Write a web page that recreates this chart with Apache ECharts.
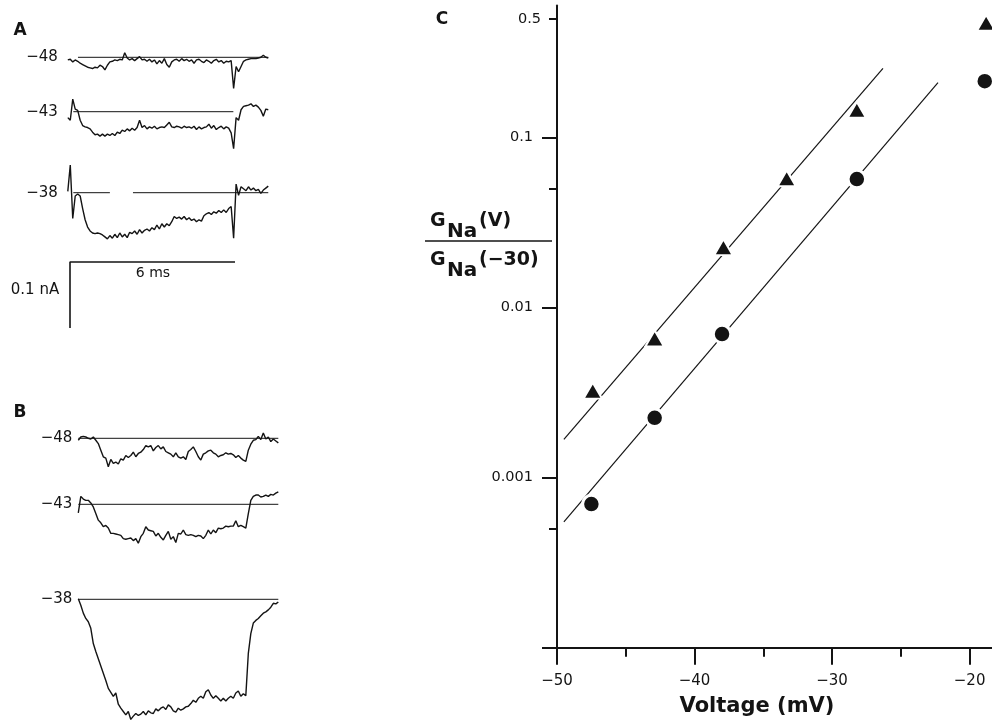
<!DOCTYPE html>
<html>
<head>
<meta charset="utf-8">
<script src="https://cdn.jsdelivr.net/npm/echarts@6/dist/echarts.min.js"></script>
<style>
  html, body { margin: 0; padding: 0; background: #ffffff; }
  #chart { width: 992px; height: 723px; }
</style>
</head>
<body>
<div id="chart"></div>
<script>
// ---------- Panel A: recorded currents (pA), one sample every 0.09 ms from -0.2 ms ----------
const sampleMsA = 0.09;
const startMsA = -0.2;
const recA48 = [-4,-3,-7,-4,-6,-9,-11,-13,-15,-16,
  -17,-15,-16,-12,-14,-19,-12,-7,-6,-4,
  -5,-3,-4,7,-1,-4,-2,-5,-2,1,
  -4,-3,-6,-3,-7,-4,-10,-5,-9,-2,
  -11,-15,-7,-4,-3,-6,-2,-5,-3,-6,
  -4,-9,-4,-3,-6,-8,-4,-6,-9,-5,
  -3,-7,-5,-9,-6,-7,-5,-47,-14,-22,
  -14,-6,-4,-3,-2,-2,-2,-1,0,3,
  0,-1];
const recA43 = [-9,-13,19,4,2,-13,-21,-23,-24,-26,
  -31,-35,-34,-37,-34,-37,-34,-36,-33,-36,
  -31,-33,-28,-30,-26,-29,-25,-28,-24,-13,
  -24,-21,-26,-23,-25,-22,-26,-24,-23,-24,
  -20,-16,-23,-24,-22,-23,-25,-22,-24,-23,
  -25,-22,-27,-23,-26,-24,-23,-19,-25,-21,
  -27,-24,-22,-26,-23,-25,-32,-56,-9,-13,
  3,8,9,10,12,8,10,7,2,-7,
  4,3];
const recA38 = [2,42,-39,-5,-2,-5,-24,-41,-52,-58,
  -61,-62,-61,-62,-64,-67,-70,-65,-69,-63,
  -68,-61,-67,-63,-68,-60,-62,-58,-63,-56,
  -61,-57,-55,-58,-53,-56,-49,-55,-47,-52,
  -47,-50,-44,-36,-39,-37,-40,-36,-41,-38,
  -42,-40,-44,-41,-43,-35,-32,-30,-33,-29,
  -31,-27,-30,-26,-30,-24,-21,-69,13,-4,
  9,6,3,9,4,7,3,5,-1,4,
  7,10];
// zero-current reference segments [start ms, end ms]
const zeroA48 = [[0.17, 7.09]];
const zeroA43 = [[0, 5.82]];
const zeroA38 = [[0, 1.33], [2.17, 7.09]];

// ---------- Panel B: currents (pA), one sample every 0.09 ms from 0 ms ----------
const sampleMsB = 0.09;
const startMsB = 0;
const recB48 = [-3,2,3,2,0,-1,2,-3,-8,-18,
  -28,-30,-43,-32,-38,-36,-39,-31,-33,-26,
  -29,-26,-21,-28,-23,-21,-17,-11,-13,-11,
  -19,-14,-11,-16,-13,-20,-22,-24,-28,-22,
  -28,-30,-28,-32,-20,-17,-13,-20,-28,-33,
  -24,-22,-19,-18,-22,-24,-28,-26,-25,-22,
  -24,-23,-25,-29,-26,-30,-33,-35,-18,-9,
  -3,-2,3,-2,8,-1,2,-5,-1,-4,
  -7];
const recB43 = [-13,12,8,6,6,2,-4,-14,-24,-28,
  -34,-32,-36,-44,-44,-45,-46,-47,-52,-53,
  -52,-51,-55,-52,-59,-49,-44,-34,-39,-40,
  -41,-48,-44,-50,-54,-47,-41,-53,-49,-58,
  -44,-45,-39,-46,-47,-46,-47,-49,-47,-48,
  -52,-47,-39,-45,-39,-43,-36,-37,-36,-33,
  -34,-33,-33,-25,-34,-32,-34,-36,-14,6,
  12,14,14,11,12,14,12,15,14,17,
  19];
const recB38 = [1,-9,-21,-29,-34,-44,-67,-79,-90,-101,
  -112,-123,-135,-141,-147,-142,-159,-165,-170,-175,
  -170,-182,-177,-173,-176,-174,-170,-175,-169,-172,
  -173,-166,-169,-165,-163,-167,-160,-163,-169,-171,
  -165,-168,-166,-163,-162,-158,-153,-156,-150,-147,
  -150,-140,-137,-145,-150,-146,-150,-154,-150,-154,
  -150,-147,-150,-142,-139,-147,-143,-146,-82,-52,
  -36,-32,-29,-25,-21,-19,-16,-12,-6,-7,
  -4];
const zeroB = [[0, 7.2]];

// test potentials (mV) of the three records in A and in B
const stepPotentials = [-48, -43, -38];

// calibration bar: 6 ms, 0.1 nA
const scaleBarMs = 6;
const scaleBarPA = 100;

// ---------- Panel C: normalised conductance vs voltage ----------
const voltTri = [-47.4, -42.9, -37.9, -33.3, -28.2, -18.8];
const gTri    = [0.00325, 0.0066, 0.0227, 0.0577, 0.146, 0.474];
const voltCirc = [-47.5, -42.9, -38.0, -28.2, -18.9];
const gCirc    = [0.0007, 0.00225, 0.0070, 0.0571, 0.215];
// fitted exponential lines (end points)
const fitTriV = [-49.5, -26.3];
const fitTriG = [0.00168, 0.256];
const fitCircV = [-49.5, -22.3];
const fitCircG = [0.00055, 0.211];
// axis ticks
const xMajorTicks = [-50, -40, -30, -20];
const xMinorTicks = [-45, -35, -25];
const yMajorTicks = [0.0001, 0.001, 0.01, 0.1];
const yMajorLabels = [0.001, 0.01, 0.1];
const yMinorTicks = [0.0005, 0.05, 0.5];
const yMinorLabels = [0.5];

// ---------- drawing ----------
const FONT = 'DejaVu Sans';
const INK = '#141414';
const pxPerPA = 0.66;
const fmtV = v => String(v).replace('-', '\u2212');
const zip = (a, b) => a.map((v, i) => [v, b[i]]);

const grids = [], xAxes = [], yAxes = [], series = [];

function addTrace(rec, t0, dt, pxPerMs, left, baseY, yMin, yMax, potential, labelMargin, zeroSegs) {
  const gi = grids.length;
  const tEnd = t0 + dt * (rec.length - 1);
  grids.push({
    left: left, top: baseY - yMax * pxPerPA,
    width: (tEnd - t0) * pxPerMs, height: (yMax - yMin) * pxPerPA,
    outerBoundsMode: 'none', containLabel: false
  });
  xAxes.push({ type: 'value', gridIndex: gi, min: t0, max: tEnd, show: false });
  yAxes.push({
    type: 'value', gridIndex: gi, min: yMin, max: yMax,
    axisLine: { show: false }, axisTick: { show: false }, splitLine: { show: false },
    axisLabel: {
      customValues: [0], formatter: () => fmtV(potential), margin: labelMargin,
      color: INK, fontFamily: FONT, fontSize: 15
    }
  });
  zeroSegs.forEach(seg => {
    series.push({
      type: 'line', xAxisIndex: gi, yAxisIndex: gi, silent: true, clip: false,
      showSymbol: false, data: [[seg[0], 0], [seg[1], 0]],
      lineStyle: { color: INK, width: 1 }, z: 2
    });
  });
  series.push({
    type: 'line', xAxisIndex: gi, yAxisIndex: gi, silent: true, clip: false,
    showSymbol: false, data: rec.map((v, k) => [t0 + k * dt, v]),
    lineStyle: { color: INK, width: 1.4 }, z: 3
  });
}

// panel A records
addTrace(recA48, startMsA, sampleMsA, 27.5, 67.8, 57.3, -120, 60, stepPotentials[0], 10, zeroA48);
addTrace(recA43, startMsA, sampleMsA, 27.5, 67.8, 111.7, -120, 60, stepPotentials[1], 10, zeroA43);
addTrace(recA38, startMsA, sampleMsA, 27.5, 67.8, 192.7, -120, 60, stepPotentials[2], 10, zeroA38);
// panel B records
addTrace(recB48, startMsB, sampleMsB, 27.78, 78.3, 438.3, -200, 60, stepPotentials[0], 6, zeroB);
addTrace(recB43, startMsB, sampleMsB, 27.78, 78.3, 504.3, -200, 60, stepPotentials[1], 6, zeroB);
addTrace(recB38, startMsB, sampleMsB, 27.78, 78.3, 599.3, -200, 60, stepPotentials[2], 6, zeroB);

// calibration bar grid
(function () {
  const gi = grids.length;
  grids.push({ left: 70, top: 262, width: scaleBarMs * 27.5, height: scaleBarPA * pxPerPA, outerBoundsMode: 'none' });
  xAxes.push({ type: 'value', gridIndex: gi, min: 0, max: scaleBarMs, show: false });
  yAxes.push({ type: 'value', gridIndex: gi, min: -scaleBarPA, max: 0, show: false });
  series.push({
    type: 'line', xAxisIndex: gi, yAxisIndex: gi, silent: true, clip: false, showSymbol: false,
    data: [[scaleBarMs, 0], [0, 0], [0, -scaleBarPA]],
    lineStyle: { color: INK, width: 1.6 }
  });
})();

// panel C grid
const gC = grids.length;
grids.push({ left: 557, top: 5.4, width: 436, height: 642.3, outerBoundsMode: 'none', containLabel: false });
const axC = { x: xAxes.length, y: yAxes.length };
xAxes.push({
  type: 'value', gridIndex: gC, position: 'bottom', min: -50, max: -18.3,
  axisLine: { lineStyle: { color: INK, width: 2 } },
  axisTick: { customValues: xMajorTicks, length: 17, lineStyle: { color: INK, width: 2 } },
  axisLabel: { customValues: xMajorTicks, formatter: v => fmtV(v), margin: 26, color: INK, fontFamily: FONT, fontSize: 15 },
  splitLine: { show: false }
});
xAxes.push({
  type: 'value', gridIndex: gC, position: 'bottom', min: -50, max: -18.3,
  axisLine: { show: false },
  axisTick: { customValues: xMinorTicks, length: 9, lineStyle: { color: INK, width: 2 } },
  axisLabel: { show: false }, splitLine: { show: false }
});
const logFmt = v => String(Number(Number(v).toPrecision(4)));
yAxes.push({
  type: 'log', logBase: 10, gridIndex: gC, position: 'left', min: 0.0001, max: 0.6,
  axisLine: { lineStyle: { color: INK, width: 2 } },
  axisTick: { customValues: yMajorTicks, length: 15, lineStyle: { color: INK, width: 2 } },
  axisLabel: { customValues: yMajorLabels, formatter: logFmt, margin: 24, color: INK, fontFamily: FONT, fontSize: 14.5 },
  splitLine: { show: false }, minorTick: { show: false }
});
yAxes.push({
  type: 'log', logBase: 10, gridIndex: gC, position: 'left', min: 0.0001, max: 0.6,
  axisLine: { show: false },
  axisTick: { customValues: yMinorTicks, length: 8, lineStyle: { color: INK, width: 2 } },
  axisLabel: { customValues: yMinorLabels, formatter: logFmt, margin: 16, color: INK, fontFamily: FONT, fontSize: 14.5 },
  splitLine: { show: false }, minorTick: { show: false }
});

series.push({
  type: 'line', xAxisIndex: axC.x, yAxisIndex: axC.y, silent: true, showSymbol: false,
  data: zip(fitTriV, fitTriG), lineStyle: { color: INK, width: 1.2 }, z: 2
});
series.push({
  type: 'line', xAxisIndex: axC.x, yAxisIndex: axC.y, silent: true, showSymbol: false,
  data: zip(fitCircV, fitCircG), lineStyle: { color: INK, width: 1.2 }, z: 2
});
// white outline around each marker leaves the small gap in the fitted line
series.push({
  type: 'scatter', xAxisIndex: axC.x, yAxisIndex: axC.y, silent: true,
  data: zip(voltTri, gTri), symbol: 'triangle', symbolSize: [18.5, 16],
  itemStyle: { color: INK, borderColor: '#ffffff', borderWidth: 2, opacity: 1 }, z: 5
});
series.push({
  type: 'scatter', xAxisIndex: axC.x, yAxisIndex: axC.y, silent: true,
  data: zip(voltCirc, gCirc), symbol: 'circle', symbolSize: 17.5,
  itemStyle: { color: INK, borderColor: '#ffffff', borderWidth: 3, opacity: 1 }, z: 5
});

function txt(text, x, y, size, weight, align) {
  return {
    type: 'text', x: x, y: y, silent: true, z: 10,
    style: {
      text: text, fill: INK,
      font: (weight || 'normal') + ' ' + size + 'px "' + FONT + '"',
      textAlign: align || 'center', align: align || 'center',
      textVerticalAlign: 'middle', verticalAlign: 'middle'
    }
  };
}

const graphics = [
  txt('A', 20, 31, 17, 'bold'),
  txt('B', 20, 413, 17, 'bold'),
  txt('C', 442, 20, 17, 'bold'),
  txt('6 ms', 153, 273, 14),
  txt('0.1 nA', 35, 290, 15),
  // conductance ratio axis title
  txt('G', 430, 221, 19, 'bold', 'left'),
  txt('Na', 447, 232, 20, 'bold', 'left'),
  txt('(V)', 479, 221, 19, 'bold', 'left'),
  { type: 'line', silent: true, shape: { x1: 425, y1: 241, x2: 552, y2: 241 }, style: { stroke: INK, lineWidth: 1.5 } },
  txt('G', 430, 260, 19, 'bold', 'left'),
  txt('Na', 447, 271, 20, 'bold', 'left'),
  txt('(\u221230)', 479, 260, 19, 'bold', 'left'),
  txt('Voltage (mV)', 757, 707, 21, 'bold')
];

const chart = echarts.init(document.getElementById('chart'), null, { renderer: 'canvas' });
chart.setOption({
  animation: false,
  backgroundColor: '#ffffff',
  grid: grids,
  xAxis: xAxes,
  yAxis: yAxes,
  series: series,
  graphic: graphics
});
</script>
</body>
</html>
